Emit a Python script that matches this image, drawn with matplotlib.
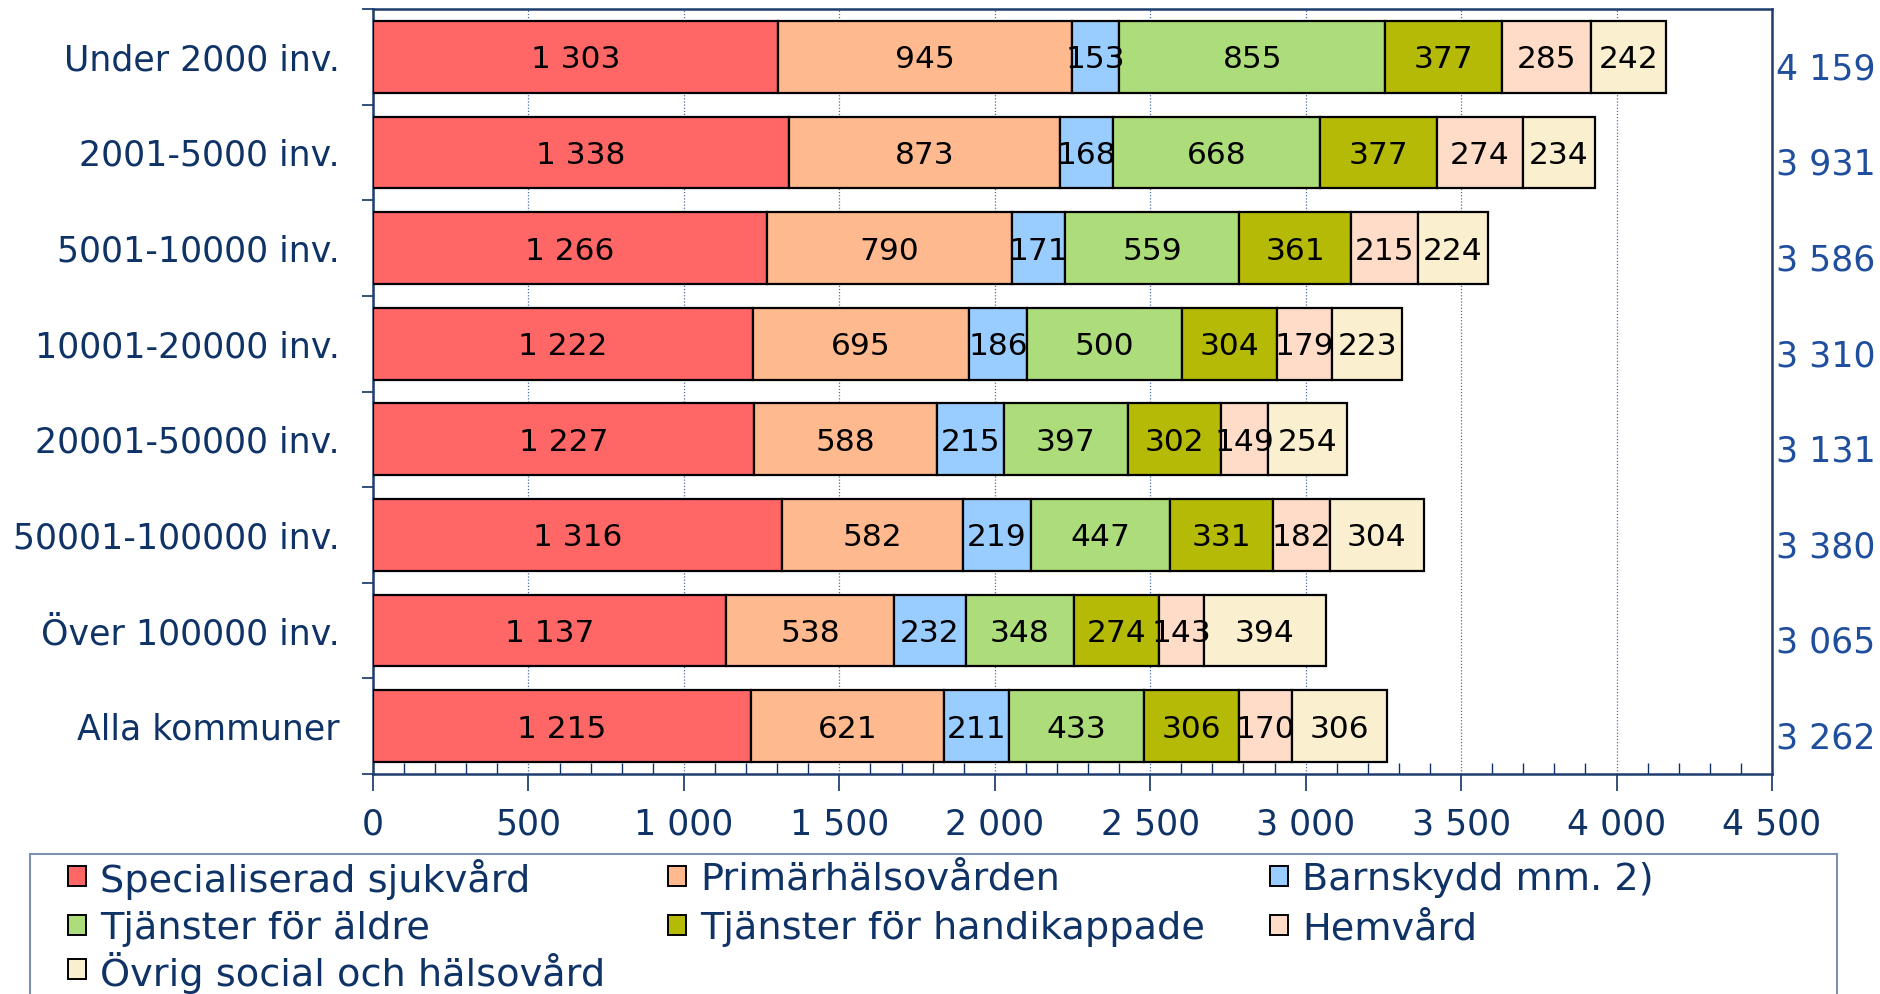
import numpy as np
import matplotlib
matplotlib.use("Agg")
from matplotlib import pyplot as plt
import matplotlib.ticker as ticker
import matplotlib.transforms as mtransforms
from matplotlib.patches import Rectangle

categories = ["Under 2000 inv.", "2001-5000 inv.", "5001-10000 inv.", "10001-20000 inv.",
              "20001-50000 inv.", "50001-100000 inv.", "Över 100000 inv.", "Alla kommuner"]

series_names = ["Specialiserad sjukvård", "Primärhälsovården", "Barnskydd mm. 2)",
                "Tjänster för äldre", "Tjänster för handikappade", "Hemvård",
                "Övrig social och hälsovård"]

specialiserad = [1303, 1338, 1266, 1222, 1227, 1316, 1137, 1215]
primar = [945, 873, 790, 695, 588, 582, 538, 621]
barnskydd = [153, 168, 171, 186, 215, 219, 232, 211]
aldre = [855, 668, 559, 500, 397, 447, 348, 433]
handikappade = [377, 377, 361, 304, 302, 331, 274, 306]
hemvard = [285, 274, 215, 179, 149, 182, 143, 170]
ovrig = [242, 234, 224, 223, 254, 304, 394, 306]

totals = [4159, 3931, 3586, 3310, 3131, 3380, 3065, 3262]

colors = ["#FF6666", "#FFB98F", "#99CCFF", "#ADDC7A", "#B5BA06", "#FFDCC8", "#FAF0CF"]

navy = "#0F3366"
blue = "#1F4E9E"


def fmt(v):
    return f"{v:,}".replace(",", " ")


data = [specialiserad, primar, barnskydd, aldre, handikappade, hemvard, ovrig]

fig = plt.figure(figsize=(18.81, 9.94), dpi=100)
ax = fig.add_axes([373 / 1881, 1 - 774 / 994, (1772 - 373) / 1881, (774 - 9) / 994])

y = np.arange(len(categories))
left = np.zeros(len(categories))
for vals, name, col in zip(data, series_names, colors):
    vals = np.array(vals)
    bars = ax.barh(y, vals, left=left, height=0.75, color=col, edgecolor="black",
                   linewidth=1.6, label=name, zorder=3)
    for b, v in zip(bars, vals):
        ax.text(b.get_x() + b.get_width() / 2, b.get_y() + b.get_height() / 2, fmt(v),
                ha="center", va="center_baseline", fontsize=22.5, color="black", zorder=4)
    left += vals

ax.set_xlim(0, 4500)
ax.set_ylim(len(categories) - 0.5, -0.5)

ax.xaxis.set_major_locator(ticker.MultipleLocator(500))
ax.xaxis.set_minor_locator(ticker.MultipleLocator(100))
ax.xaxis.set_major_formatter(ticker.FuncFormatter(lambda v, p: fmt(int(v))))
ax.tick_params(axis="x", which="major", direction="out", length=12, width=1.2,
               color=navy, labelsize=25, labelcolor=navy, pad=12)
ax.tick_params(axis="x", which="minor", direction="in", length=8, width=1, color=navy)

ax.set_yticks(y, categories)
ax.set_yticks(np.arange(len(categories) + 1) - 0.5, minor=True)
ax.tick_params(axis="y", which="major", length=0, labelsize=25, labelcolor=navy, pad=24)
ax.tick_params(axis="y", which="minor", direction="out", length=8, width=1.2, color=navy)

ax.grid(axis="x", which="major", linestyle=(0, (1, 1.5)), color="#4A6FA5", linewidth=0.9, zorder=0)
for s in ax.spines.values():
    s.set_color("#1F3D6E")
    s.set_linewidth(1.8)

trans = mtransforms.blended_transform_factory(ax.transAxes, ax.transData)
for yi, t in zip(y, totals):
    ax.text(1.003, yi + 0.13, fmt(t), transform=trans, ha="left", va="center",
            fontsize=25, color=blue)

# legend box, laid out row by row
fig.patches.append(Rectangle((30 / 1881, -0.05), (1837 - 30) / 1881, 0.05 + 1 - 854 / 994,
                             transform=fig.transFigure, facecolor="none",
                             edgecolor="#7F90AE", linewidth=1.5))
col_x = [68, 668, 1270]
row_y = [876, 925, 969]
for i, (name, col) in enumerate(zip(series_names, colors)):
    cx = col_x[i % 3]
    cy = row_y[i // 3]
    fig.patches.append(Rectangle((cx / 1881, 1 - (cy + 10) / 994), 18 / 1881, 20 / 994,
                                 transform=fig.transFigure, facecolor=col,
                                 edgecolor="black", linewidth=1.4))
    fig.text((cx + 32) / 1881, 1 - cy / 994, name, ha="left", va="center_baseline",
             fontsize=27.5, color=navy)

plt.savefig("out.png", dpi=100)
